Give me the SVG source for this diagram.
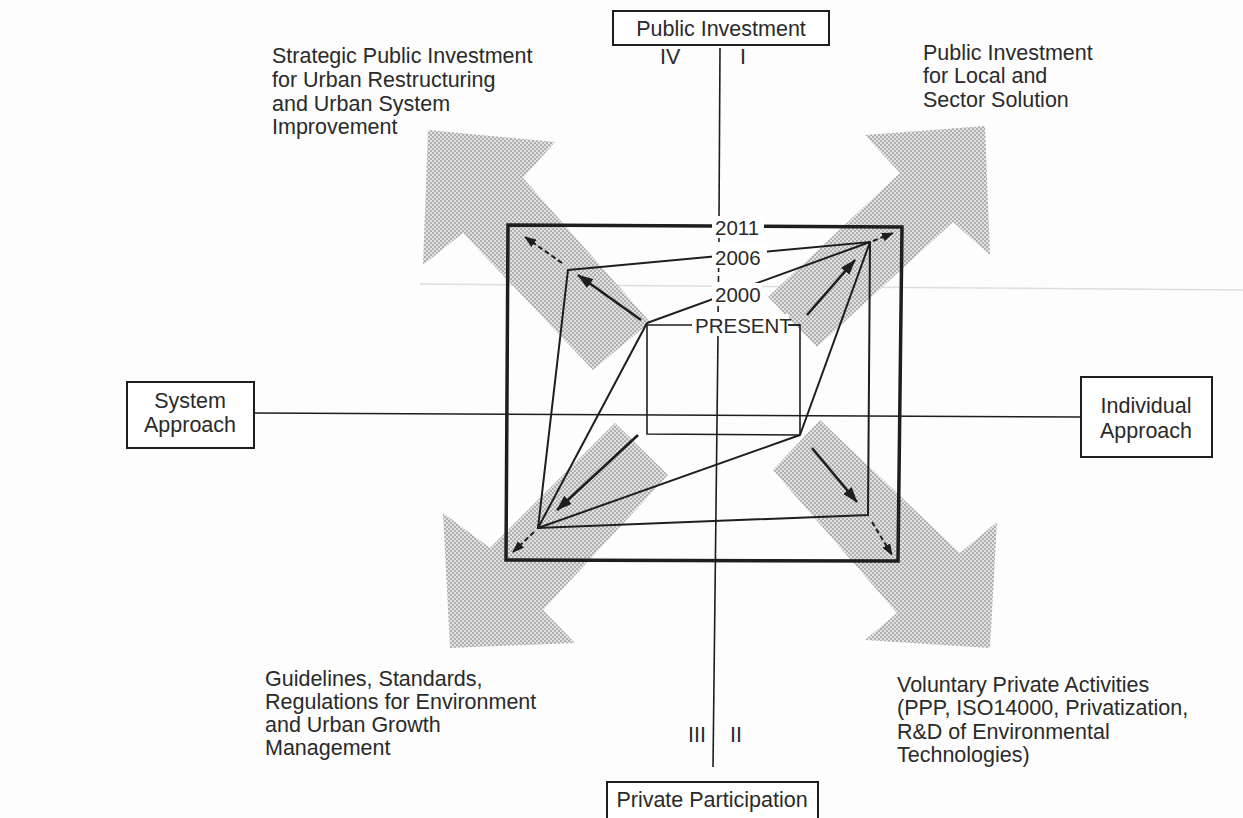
<svg xmlns="http://www.w3.org/2000/svg" width="1243" height="818" viewBox="0 0 1243 818">
<defs>
<pattern id="stipple" width="4" height="4" patternUnits="userSpaceOnUse">
<rect width="4" height="4" fill="#e2e2e2"/>
<circle cx="1" cy="1" r="0.95" fill="#9a9a9a"/>
<circle cx="3" cy="3" r="0.95" fill="#9a9a9a"/>
</pattern>
<marker id="ah" markerUnits="userSpaceOnUse" markerWidth="16" markerHeight="11" refX="15" refY="5.5" orient="auto">
<path d="M0,0 L16,5.5 L0,11 z" fill="#1e1e1e"/>
</marker>
<marker id="ahs" markerUnits="userSpaceOnUse" markerWidth="12" markerHeight="9" refX="11" refY="4.5" orient="auto">
<path d="M0,0 L12,4.5 L0,9 z" fill="#1e1e1e"/>
</marker>
</defs>
<style>
.t{font-family:"Liberation Sans",Arial,Helvetica,sans-serif;font-size:21.5px;fill:#2a2a2a}
.c{text-anchor:middle}
.yr{font-family:"Liberation Sans",Arial,Helvetica,sans-serif;font-size:20.5px;fill:#2a2a2a}
.box{fill:#fff;stroke:#1e1e1e;stroke-width:2}
.ln{fill:none;stroke:#1e1e1e;stroke-width:2}
.thin{fill:none;stroke:#1e1e1e;stroke-width:1.6}
.thick{fill:none;stroke:#1e1e1e;stroke-width:3.5}
.arr{fill:none;stroke:#1e1e1e;stroke-width:2.6;marker-end:url(#ah)}
.sarr{fill:none;stroke:#1e1e1e;stroke-width:2;stroke-dasharray:5 3;marker-end:url(#ahs)}
.hatch{fill:url(#stipple)}
.gap{fill:#fff}
</style>
<rect width="1243" height="818" fill="#fdfdfd"/>
<line x1="420" y1="284" x2="1243" y2="290" stroke="#dedede" stroke-width="1.5"/>

<g id="hatched-arrows">
<polygon class="hatch" points="428,130 555,142 523,178 650,322 593,370 463,233 423,265"/>
<polygon class="hatch" points="985,126 990,255 953,222 817,347 768,297 900,173 865,135"/>
<polygon class="hatch" points="450,648 443,513 490,548 615,423 668,475 543,610 575,643"/>
<polygon class="hatch" points="990,648 997,522 960,553 820,420 773,470 897,613 865,640"/>
</g>

<g id="axes">
<line class="thin" x1="720" y1="48" x2="719" y2="218"/>
<line class="thin" x1="719" y1="236" x2="718" y2="318" stroke-dasharray="6 4"/>
<line class="thin" x1="718" y1="336" x2="713" y2="767"/>
<line class="thin" x1="254" y1="413" x2="1081" y2="417"/>
</g>

<g id="connectors">
<polygon class="thick" points="508,225 902,227 898,561 506,560"/>
<polygon class="ln" points="568,270 870,242 868,515 538,528"/>
<polygon class="thin" points="647,325 800,325 800,435 647,434"/>
<line class="ln" x1="647" y1="323" x2="870" y2="242"/>
<line class="ln" x1="647" y1="323" x2="538" y2="528"/>
<line class="ln" x1="800" y1="435" x2="870" y2="242"/>
<line class="ln" x1="800" y1="435" x2="538" y2="528"/>
<line class="arr" x1="641" y1="320" x2="578" y2="275"/>
<line class="sarr" x1="562" y1="263" x2="525" y2="237"/>
<line class="arr" x1="807" y1="315" x2="855" y2="260"/>
<line class="sarr" x1="873" y1="241" x2="893" y2="233"/>
<line class="arr" x1="638" y1="435" x2="557" y2="510"/>
<line class="sarr" x1="534" y1="532" x2="513" y2="552"/>
<line class="arr" x1="812" y1="448" x2="857" y2="502"/>
<line class="sarr" x1="872" y1="522" x2="892" y2="555"/>
</g>

<g id="year-2011">
<rect class="gap" x="712" y="216" width="52" height="22"/>
<text class="yr" x="715" y="235">2011</text>
</g>
<g id="year-2006">
<rect class="gap" x="712" y="246" width="55" height="22"/>
<text class="yr" x="715" y="265">2006</text>
</g>
<g id="year-2000">
<rect class="gap" x="712" y="283" width="50" height="22"/>
<text class="yr" x="715" y="302">2000</text>
</g>
<g id="present">
<rect class="gap" x="692" y="314" width="97" height="22"/>
<text class="yr" x="695" y="333">PRESENT</text>
<line class="thin" x1="788" y1="325" x2="800" y2="325"/>
</g>

<g id="public-investment">
<rect class="box" x="613" y="11" width="216" height="34"/>
<text class="t c" x="721" y="36">Public Investment</text>
</g>
<g id="private-participation">
<rect class="box" x="607" y="782" width="211" height="48"/>
<text class="t c" x="712" y="807">Private Participation</text>
</g>
<g id="system-approach">
<rect class="box" x="127" y="382" width="127" height="66"/>
<text class="t c" x="190" y="408">System</text>
<text class="t c" x="190" y="432">Approach</text>
</g>
<g id="individual-approach">
<rect class="box" x="1081" y="377" width="131" height="80"/>
<text class="t c" x="1146" y="413">Individual</text>
<text class="t c" x="1146" y="438">Approach</text>
</g>

<g id="quadrant-numbers">
<text class="t" x="660" y="64">IV</text>
<text class="t" x="740" y="64">I</text>
<text class="t" x="688" y="742">III</text>
<text class="t" x="730" y="742">II</text>
</g>

<g id="quadrant-IV-text">
<text class="t" x="272" y="63">Strategic Public Investment</text>
<text class="t" x="272" y="87">for Urban Restructuring</text>
<text class="t" x="272" y="111">and Urban System</text>
<text class="t" x="272" y="134">Improvement</text>
</g>
<g id="quadrant-I-text">
<text class="t" x="923" y="60">Public Investment</text>
<text class="t" x="923" y="83">for Local and</text>
<text class="t" x="923" y="107">Sector Solution</text>
</g>
<g id="quadrant-III-text">
<text class="t" x="265" y="686">Guidelines, Standards,</text>
<text class="t" x="265" y="709">Regulations for Environment</text>
<text class="t" x="265" y="732">and Urban Growth</text>
<text class="t" x="265" y="755">Management</text>
</g>
<g id="quadrant-II-text">
<text class="t" x="897" y="692">Voluntary Private Activities</text>
<text class="t" x="897" y="715">(PPP, ISO14000, Privatization,</text>
<text class="t" x="897" y="739">R&amp;D of Environmental</text>
<text class="t" x="897" y="762">Technologies)</text>
</g>
</svg>
